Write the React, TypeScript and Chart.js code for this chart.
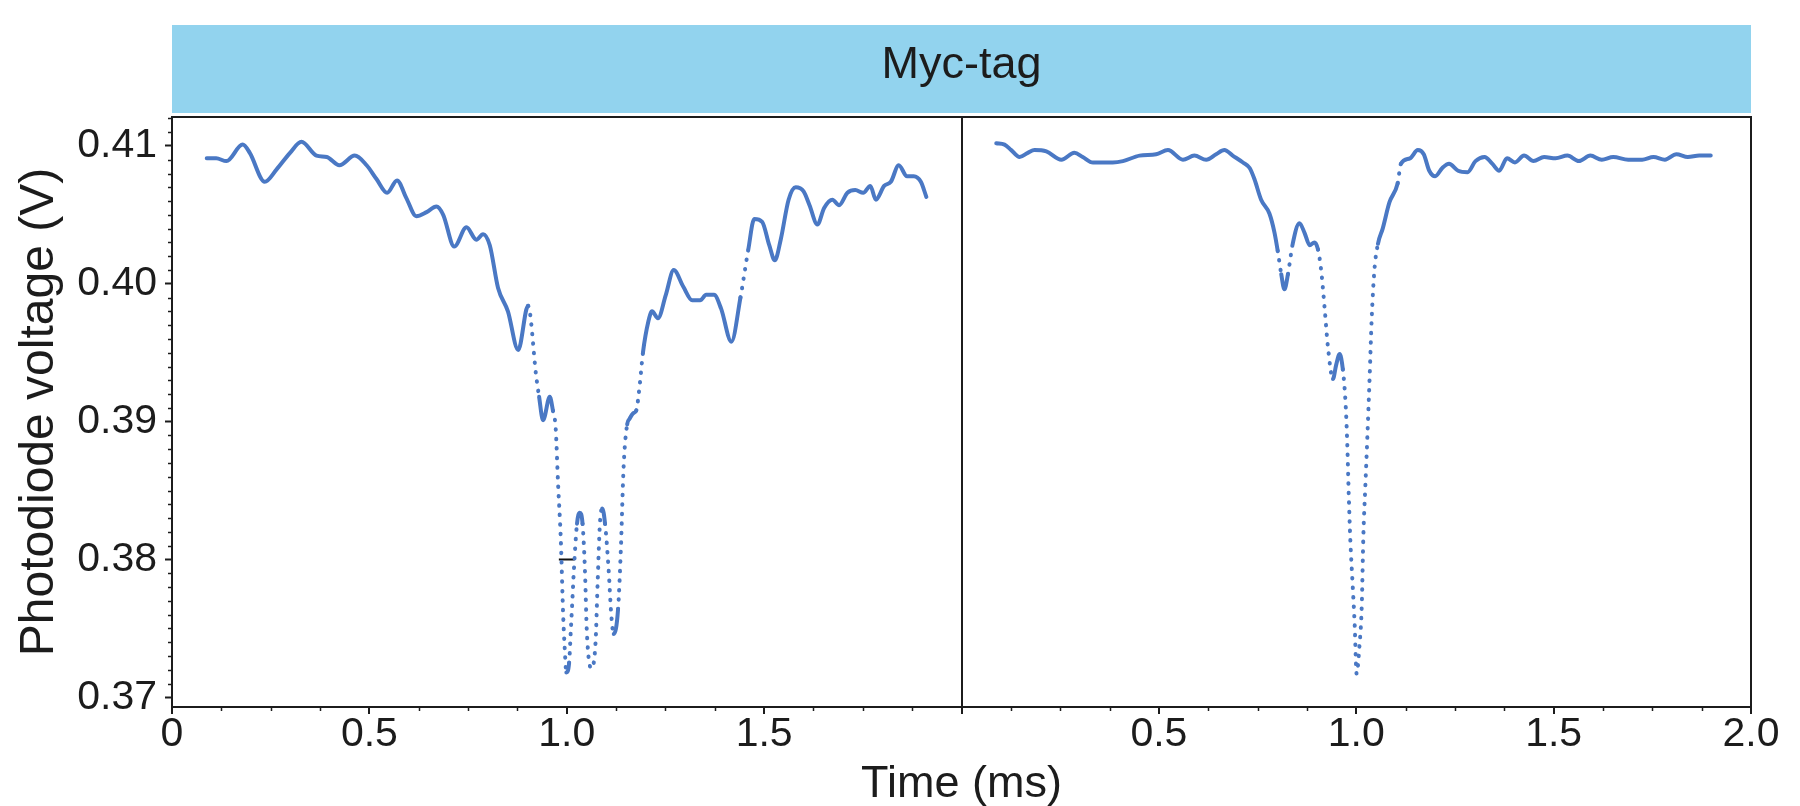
import React, { useEffect, useRef } from "react";
import { Chart, registerables } from "chart.js";

Chart.register(...registerables);

// ---------- data ----------
const LEFT_TIME = [
  0.088, 0.112, 0.138, 0.179, 0.197, 0.235, 0.265, 0.299, 0.328, 0.366,
  0.392, 0.424, 0.463, 0.493, 0.518, 0.545, 0.57, 0.594, 0.619, 0.645,
  0.67, 0.687, 0.715, 0.746, 0.771, 0.788, 0.805, 0.826, 0.851, 0.877,
  0.902, 0.923, 0.93, 0.94, 0.957, 0.965, 0.972, 0.978, 0.985, 0.991,
  0.995, 0.999, 1.006, 1.01, 1.014, 1.018, 1.026, 1.033, 1.04, 1.046,
  1.051, 1.062, 1.073, 1.078, 1.084, 1.09, 1.097, 1.106, 1.113, 1.119,
  1.13, 1.137, 1.144, 1.153, 1.159, 1.168, 1.176, 1.185, 1.193, 1.207,
  1.216, 1.231, 1.251, 1.271, 1.295, 1.318, 1.338, 1.353, 1.373, 1.391,
  1.417, 1.44, 1.46, 1.475, 1.495, 1.513, 1.527, 1.542, 1.562, 1.58,
  1.6, 1.615, 1.635, 1.652, 1.673, 1.69, 1.711, 1.731, 1.751, 1.769,
  1.783, 1.804, 1.821, 1.841, 1.862, 1.879, 1.897, 1.911,
];
const LEFT_VOLT = [
  0.4091, 0.4091, 0.4089, 0.4101, 0.4095, 0.4074, 0.4083, 0.4095, 0.4103, 0.4093,
  0.4092, 0.4086, 0.4093, 0.4086, 0.4076, 0.4066, 0.4075, 0.4062, 0.4049, 0.4052,
  0.4056, 0.405, 0.4027, 0.4041, 0.4032, 0.4036, 0.4028, 0.3997, 0.398, 0.3952,
  0.3984, 0.3932, 0.3918, 0.3901, 0.3918, 0.3908, 0.3895, 0.3855, 0.3814, 0.3759,
  0.3735, 0.3718, 0.3725, 0.3747, 0.3769, 0.3792, 0.3826, 0.3834, 0.3826, 0.3793,
  0.3747, 0.3721, 0.374, 0.3781, 0.3826, 0.3837, 0.3826, 0.3793, 0.3759, 0.3746,
  0.3764, 0.3807, 0.3867, 0.3898, 0.3902, 0.3906, 0.3908, 0.3927, 0.395, 0.3973,
  0.398, 0.3975, 0.3992, 0.401, 0.3998, 0.3988, 0.3988, 0.3992, 0.3992, 0.3982,
  0.3958, 0.399, 0.4025, 0.4047, 0.4045, 0.4028, 0.4017, 0.4032, 0.4061, 0.407,
  0.4067, 0.4057, 0.4043, 0.4055, 0.4061, 0.4057, 0.4066, 0.4068, 0.4066, 0.4071,
  0.4061, 0.4071, 0.4074, 0.4086, 0.4078, 0.4078, 0.4074, 0.4063,
];

const RIGHT_TIME = [
  0.088, 0.109, 0.126, 0.147, 0.168, 0.185, 0.215, 0.253, 0.286, 0.307,
  0.333, 0.383, 0.409, 0.451, 0.493, 0.523, 0.561, 0.59, 0.62, 0.645,
  0.666, 0.687, 0.713, 0.73, 0.742, 0.759, 0.78, 0.793, 0.801, 0.81,
  0.818, 0.827, 0.839, 0.856, 0.869, 0.882, 0.894, 0.903, 0.911, 0.92,
  0.928, 0.941, 0.949, 0.958, 0.966, 0.973, 0.977, 0.981, 0.985, 0.991,
  0.996, 1.001, 1.008, 1.014, 1.018, 1.023, 1.028, 1.034, 1.039, 1.046,
  1.055, 1.067, 1.084, 1.105, 1.113, 1.136, 1.156, 1.171, 1.185, 1.2,
  1.218, 1.235, 1.258, 1.282, 1.302, 1.325, 1.345, 1.362, 1.382, 1.402,
  1.425, 1.449, 1.476, 1.505, 1.535, 1.564, 1.593, 1.622, 1.651, 1.689,
  1.724, 1.753, 1.782, 1.811, 1.84, 1.869, 1.898,
];
const RIGHT_VOLT = [
  0.4102, 0.4101, 0.4097, 0.4092, 0.4095, 0.4097, 0.4096, 0.409, 0.4095, 0.4092,
  0.4088, 0.4088, 0.4089, 0.4093, 0.4094, 0.4097, 0.409, 0.4093, 0.409, 0.4094,
  0.4097, 0.4093, 0.4088, 0.4084, 0.4076, 0.4061, 0.4051, 0.4037, 0.4024, 0.4007,
  0.3996, 0.4007, 0.4029, 0.4044, 0.4037, 0.4028, 0.403, 0.4025, 0.401, 0.3982,
  0.3955, 0.3931, 0.3941, 0.3949, 0.3938, 0.3913, 0.3886, 0.3847, 0.3814, 0.3781,
  0.3753, 0.3717, 0.3737, 0.3767, 0.3817, 0.3853, 0.3888, 0.3933, 0.3974, 0.401,
  0.4029, 0.404, 0.4059, 0.4073, 0.4087, 0.4091, 0.4097, 0.4094, 0.4082, 0.4078,
  0.4084, 0.4087, 0.4082, 0.4081, 0.4089, 0.4092, 0.4087, 0.4082, 0.4091, 0.4088,
  0.4093, 0.4089, 0.4092, 0.4091, 0.4093, 0.4089, 0.4093, 0.409, 0.4092, 0.409,
  0.409, 0.4092, 0.409, 0.4094, 0.4092, 0.4093, 0.4093,
];

// short black mark in the left panel
const MARK_TIME = [0.98, 1.02];
const MARK_VOLT = [0.38, 0.38];

// axes
const X_TICKS = [0, 0.5, 1, 1.5, 2];
const LEFT_X_LABELS = ["0", "0.5", "1.0", "1.5", ""];
const RIGHT_X_LABELS = ["", "0.5", "1.0", "1.5", "2.0"];
const Y_TICKS = [0.37, 0.38, 0.39, 0.4, 0.41];
const Y_LABELS = ["0.37", "0.38", "0.39", "0.40", "0.41"];
const X_RANGE = [0, 2];
const Y_RANGE = [0.3693, 0.4121];
const X_MINOR_STEP = 0.125;
const Y_MINOR_STEP = 0.001;

const PANEL_TITLE = "Myc-tag";
const X_TITLE = "Time (ms)";
const Y_TITLE = "Photodiode voltage (V)";

// ---------- styles ----------
const FONT = "'Liberation Sans', Arial, Helvetica, sans-serif";
const INK = "#1c1c1c";
const CURVE = "#4a78c4";
const BANNER = "#92d3ee";

const toPoints = (t: number[], v: number[]) => t.map((x, i) => ({ x, y: v[i] }));

const steepDots = (ctx: any) => {
  const dx = Math.abs(ctx.p1.x - ctx.p0.x);
  const dy = Math.abs(ctx.p1.y - ctx.p0.y);
  return dy > 6 * Math.max(dx, 0.5) ? [0.5, 9] : undefined;
};

const bannerPlugin = {
  id: "banner",
  beforeDraw(chart: any) {
    const { ctx, chartArea } = chart;
    const tb = chart.titleBlock;
    if (!tb) return;
    ctx.save();
    ctx.fillStyle = BANNER;
    ctx.fillRect(chartArea.left, tb.top, chartArea.right - chartArea.left, chartArea.top - 4 - tb.top);
    ctx.restore();
  },
};

const minorTickPlugin = {
  id: "minorTicks",
  afterDraw(chart: any) {
    const { ctx } = chart;
    ctx.save();
    ctx.strokeStyle = INK;
    ctx.lineWidth = 1.5;
    ["xL", "xR"].forEach((id) => {
      const s = chart.scales[id];
      const n = Math.round((X_RANGE[1] - X_RANGE[0]) / X_MINOR_STEP);
      for (let k = 0; k <= n; k++) {
        const v = X_RANGE[0] + k * X_MINOR_STEP;
        if (X_TICKS.some((m) => Math.abs(m - v) < 1e-9)) continue;
        const px = Math.round(s.getPixelForValue(v)) + 0.5;
        ctx.beginPath();
        ctx.moveTo(px, s.top);
        ctx.lineTo(px, s.top + 4);
        ctx.stroke();
      }
    });
    const y = chart.scales.y;
    const start = Math.ceil(Y_RANGE[0] / Y_MINOR_STEP - 1e-6);
    const end = Math.floor(Y_RANGE[1] / Y_MINOR_STEP + 1e-6);
    for (let k = start; k <= end; k++) {
      const v = k * Y_MINOR_STEP;
      if (Y_TICKS.some((m) => Math.abs(m - v) < 1e-9)) continue;
      const py = Math.round(y.getPixelForValue(v)) + 0.5;
      ctx.beginPath();
      ctx.moveTo(y.right, py);
      ctx.lineTo(y.right - 4, py);
      ctx.stroke();
    }
    ctx.restore();
  },
};

const tickFont = { family: FONT, size: 41, lineHeight: 1 };

export default function App() {
  const canvasRef = useRef<HTMLCanvasElement | null>(null);

  useEffect(() => {
    const canvas = canvasRef.current;
    if (!canvas) return;
    const xAxis = (labels: string[], divider: boolean) => ({
      type: "linear",
      position: "bottom",
      stack: "time",
      stackWeight: 1,
      min: X_RANGE[0],
      max: X_RANGE[1],
      afterBuildTicks: (s: any) => {
        s.ticks = X_TICKS.map((value) => ({ value }));
      },
      afterFit: (s: any) => {
        s.height = 50;
      },
      ticks: {
        autoSkip: false,
        maxRotation: 0,
        padding: 0,
        color: INK,
        font: tickFont,
        callback: (_v: any, i: number) => labels[i],
      },
      grid: {
        drawOnChartArea: divider,
        color: (c: any) => (divider && c.tick && c.tick.value === 0 ? INK : "rgba(0,0,0,0)"),
        lineWidth: 2,
        tickColor: INK,
        tickLength: 7,
        tickWidth: 2,
      },
      border: { display: true, color: INK, width: 2 },
    });

    const chart = new Chart(canvas, {
      type: "line",
      data: {
        datasets: [
          {
            data: toPoints(LEFT_TIME, LEFT_VOLT),
            xAxisID: "xL",
            yAxisID: "y",
            borderColor: CURVE,
            borderWidth: 4,
            borderCapStyle: "round",
            borderJoinStyle: "round",
            pointRadius: 0,
            cubicInterpolationMode: "monotone",
            segment: { borderDash: steepDots },
          },
          {
            data: toPoints(RIGHT_TIME, RIGHT_VOLT),
            xAxisID: "xR",
            yAxisID: "y",
            borderColor: CURVE,
            borderWidth: 4,
            borderCapStyle: "round",
            borderJoinStyle: "round",
            pointRadius: 0,
            cubicInterpolationMode: "monotone",
            segment: { borderDash: steepDots },
          },
          {
            data: toPoints(MARK_TIME, MARK_VOLT),
            xAxisID: "xL",
            yAxisID: "y",
            borderColor: "#111",
            borderWidth: 2,
            pointRadius: 0,
          },
        ],
      },
      options: {
        responsive: false,
        maintainAspectRatio: false,
        devicePixelRatio: 1,
        animation: false,
        events: [],
        layout: { padding: { left: 0, right: 49, top: 25, bottom: 0 } },
        plugins: {
          legend: { display: false },
          tooltip: { enabled: false },
          title: {
            display: true,
            text: PANEL_TITLE,
            position: "top",
            fullSize: false,
            color: INK,
            font: { family: FONT, size: 45, weight: "normal", lineHeight: 1.2 },
            padding: { top: 14, bottom: 24 },
          },
          subtitle: {
            display: true,
            text: X_TITLE,
            position: "bottom",
            fullSize: false,
            color: INK,
            font: { family: FONT, size: 45, weight: "normal", lineHeight: 0.9 },
            padding: { top: 7.75, bottom: 0.75 },
          },
        },
        scales: {
          xL: xAxis(LEFT_X_LABELS, false),
          xR: xAxis(RIGHT_X_LABELS, true),
          xTop: {
            type: "linear",
            position: "top",
            min: 0,
            max: 1,
            ticks: { display: false },
            grid: { drawOnChartArea: false, drawTicks: false },
            border: { display: true, color: INK, width: 2 },
            afterFit: (s: any) => {
              s.height = 0;
            },
          },
          yRight: {
            type: "linear",
            position: "right",
            min: 0,
            max: 1,
            ticks: { display: false },
            grid: { drawOnChartArea: false, drawTicks: false },
            border: { display: true, color: INK, width: 2 },
            afterFit: (s: any) => {
              s.width = 0;
            },
          },
          y: {
            type: "linear",
            position: "left",
            min: Y_RANGE[0],
            max: Y_RANGE[1],
            afterBuildTicks: (s: any) => {
              s.ticks = Y_TICKS.map((value) => ({ value }));
            },
            afterFit: (s: any) => {
              s.width = 172;
            },
            ticks: {
              padding: 8,
              color: INK,
              font: tickFont,
              callback: (_v: any, i: number) => Y_LABELS[i],
            },
            grid: {
              drawOnChartArea: false,
              tickColor: INK,
              tickLength: 7,
              tickWidth: 2,
            },
            border: { display: true, color: INK, width: 2 },
            title: {
              display: true,
              text: Y_TITLE,
              color: INK,
              font: { family: FONT, size: 48, weight: "normal", lineHeight: 1.2 },
              padding: { top: 11, bottom: 0 },
            },
          },
        },
      } as any,
      plugins: [bannerPlugin, minorTickPlugin],
    } as any);

    return () => chart.destroy();
  }, []);

  return (
    <div style={{ position: "absolute", left: 0, top: 0, width: 1800, height: 806, background: "#ffffff" }}>
      <canvas ref={canvasRef} width={1800} height={806} style={{ width: 1800, height: 806, display: "block" }} />
    </div>
  );
}
